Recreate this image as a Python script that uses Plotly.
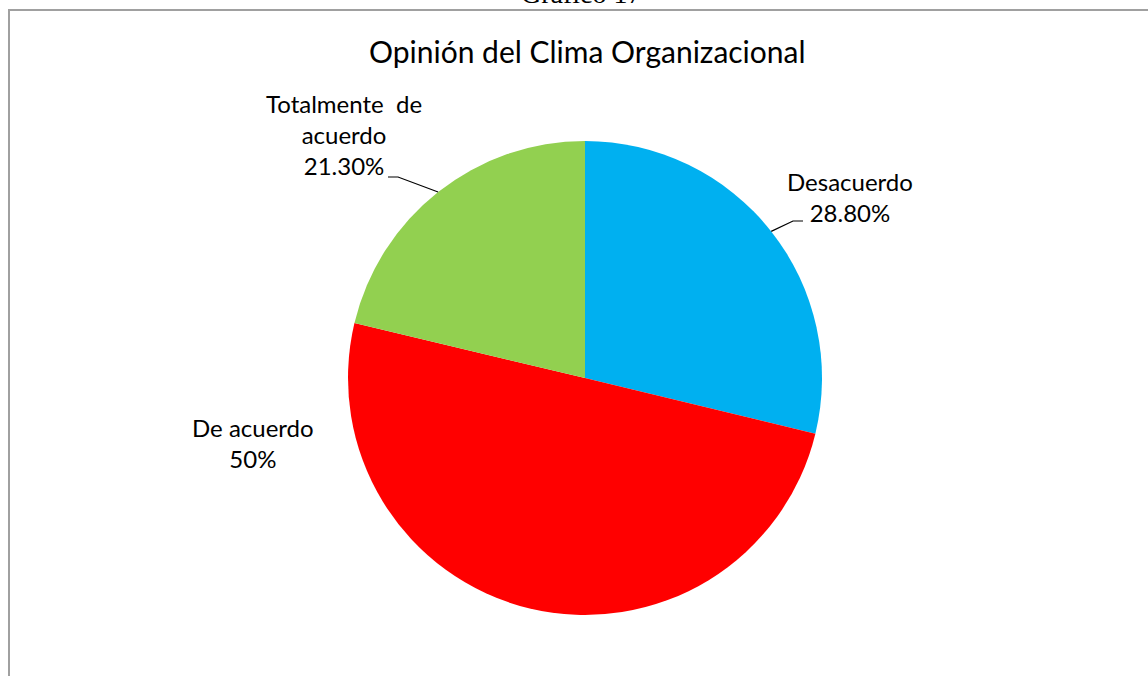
import math
import plotly.graph_objects as go

# Survey results: opinion of the organizational climate
categories = ["Desacuerdo", "De acuerdo", "Totalmente de acuerdo"]
values = [28.8, 50.0, 21.3]
value_labels = ["28.80%", "50%", "21.30%"]
colors = ["#00B0F0", "#FF0000", "#92D050"]

W, H = 1148, 676
CX, CY, R = 585, 378, 237  # pie centre and radius in pixels

fig = go.Figure(
    go.Pie(
        labels=categories,
        values=values,
        sort=False,
        direction="clockwise",
        rotation=0,
        marker=dict(colors=colors, line=dict(width=0)),
        textinfo="none",
        hoverinfo="label+percent",
        showlegend=False,
        domain=dict(
            x=[(CX - R) / W, (CX + R) / W],
            y=[(H - CY - R) / H, (H - CY + R) / H],
        ),
    )
)


def px(x, y):
    return x / W, 1 - y / H


def edge_point(i):
    """Point on the rim at the angular middle of slice i."""
    total = sum(values)
    start = sum(values[:i])
    frac = (start + values[i] / 2) / total
    a = 2 * math.pi * frac
    return CX + R * math.sin(a), CY - R * math.cos(a)


font = dict(family="Lato, Calibri, sans-serif", size=24, color="#000000")
annotations = []
shapes = []

# Frame around the chart
shapes.append(dict(type="rect", xref="paper", yref="paper",
                   x0=9 / W, y0=-0.05, x1=1.05, y1=1 - 10 / H,
                   line=dict(color="#A0A0A0", width=2), fillcolor="rgba(0,0,0,0)"))

# Header above the frame
hx, hy = px(581, -7)
annotations.append(dict(text="Gráfico 17", x=hx, y=hy, xref="paper", yref="paper",
                        showarrow=False, xanchor="center", yanchor="middle",
                        font=dict(family="Liberation Serif, Times New Roman, serif",
                                  size=28, color="#000000")))

# Chart title
tx, ty = px(587, 51)
annotations.append(dict(text="Opinión del Clima Organizacional", x=tx, y=ty,
                        xref="paper", yref="paper", showarrow=False,
                        xanchor="center", yanchor="middle",
                        font=dict(family="Lato, Calibri, sans-serif", size=30, color="#000000")))

# Data labels
label_layout = [
    (f"{categories[0]}<br>{value_labels[0]}", 850, 197, (803, 221)),
    (f"{categories[1]}<br>{value_labels[1]}", 253, 443, None),
    (f"Totalmente  de<br>acuerdo<br>{value_labels[2]}", 344, 135, (388, 177)),
]
for i, (txt, lx, ly, elbow) in enumerate(label_layout):
    ax_, ay_ = px(lx, ly)
    annotations.append(dict(text=txt, x=ax_, y=ay_, xref="paper", yref="paper",
                            showarrow=False, xanchor="center", yanchor="middle",
                            align="center", font=font))
    if elbow is not None:
        ex, ey = edge_point(i)
        if i == 0:
            mid = (elbow[0] - 10, elbow[1])
        else:
            mid = (elbow[0] + 10, elbow[1])
        pts = [elbow, mid, (ex, ey)]
        path = "M " + " L ".join(f"{px(x, y)[0]},{px(x, y)[1]}" for x, y in pts)
        shapes.append(dict(type="path", xref="paper", yref="paper", path=path,
                           line=dict(color="#000000", width=1.2)))

fig.update_layout(
    width=W, height=H,
    margin=dict(l=0, r=0, t=0, b=0),
    paper_bgcolor="#FFFFFF",
    plot_bgcolor="#FFFFFF",
    annotations=annotations,
    shapes=shapes,
)

fig.write_html("out.html")
